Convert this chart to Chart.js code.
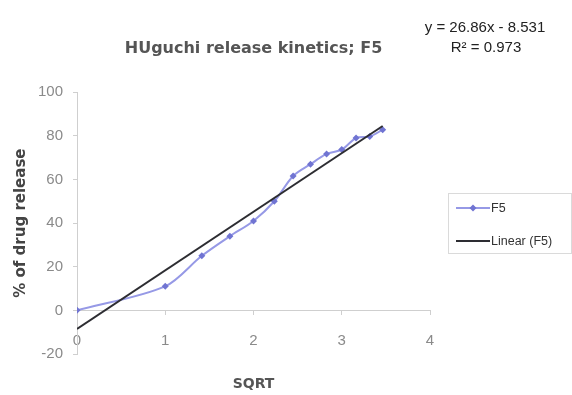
<!DOCTYPE html>
<html>
<head>
<meta charset="utf-8">
<script src="https://cdn.jsdelivr.net/npm/chart.js@4.4.1/dist/chart.umd.min.js"></script>
<style>
  html, body { margin: 0; padding: 0; background: #fff; }
  #wrap { width: 572px; height: 395px; }
</style>
</head>
<body>
<div id="wrap"><canvas id="grafico" width="572" height="395"></canvas></div>
<script>
// Higuchi plot: % released against square root of time
const sqrtTime = [0, 1, 1.414, 1.732, 2, 2.236, 2.449, 2.646, 2.828, 3, 3.162, 3.317, 3.464];
const releaseF5 = [0, 11, 25, 34, 41, 50, 61.6, 67, 71.7, 73.7, 79, 79.7, 82.8];

// linear trend line reported on the chart
const fitSlope = 26.86;
const fitIntercept = -8.531;
const fitR2 = 0.973;

const xTicks = [0, 1, 2, 3, 4];
const yTicks = [-20, 0, 20, 40, 60, 80, 100];

const pontos = sqrtTime.map((x, i) => ({ x: x, y: releaseF5[i] }));
const xIni = sqrtTime[0];
const xFim = sqrtTime[sqrtTime.length - 1];
const tendencia = [
  { x: xIni, y: fitSlope * xIni + fitIntercept },
  { x: xFim, y: fitSlope * xFim + fitIntercept }
];

const corSerie = 'rgb(150, 153, 230)';
const corMarcador = 'rgb(112, 116, 210)';
const corTendencia = 'rgb(45, 45, 50)';

// equation text and the boxed legend on the right
const extras = {
  id: 'extras',
  afterDraw(chart) {
    const ctx = chart.ctx;
    ctx.save();
    ctx.fillStyle = '#222';
    ctx.font = '15px "Liberation Sans", Arial, sans-serif';
    ctx.textAlign = 'center';
    ctx.textBaseline = 'middle';
    ctx.fillText('y = ' + fitSlope + 'x - ' + Math.abs(fitIntercept), 485, 28);
    ctx.fillText('R² = ' + fitR2, 486, 48);

    ctx.strokeStyle = '#dadada';
    ctx.lineWidth = 1;
    ctx.strokeRect(448.5, 193.5, 123, 60);

    const ds = chart.data.datasets;
    const linhas = [208, 241];
    ctx.textAlign = 'left';
    ctx.font = '12.5px "Liberation Sans", Arial, sans-serif';
    ds.forEach((d, i) => {
      const y = linhas[i];
      ctx.strokeStyle = d.borderColor;
      ctx.lineWidth = d.borderWidth;
      ctx.beginPath();
      ctx.moveTo(456, y);
      ctx.lineTo(490, y);
      ctx.stroke();
      if (d.pointRadius > 0) {
        ctx.fillStyle = d.pointBackgroundColor;
        ctx.beginPath();
        ctx.moveTo(473, y - 3.5);
        ctx.lineTo(476.5, y);
        ctx.lineTo(473, y + 3.5);
        ctx.lineTo(469.5, y);
        ctx.closePath();
        ctx.fill();
      }
      ctx.fillStyle = '#333';
      ctx.fillText(d.label, 491, y + 1);
    });
    ctx.restore();
  }
};

const ctx = document.getElementById('grafico').getContext('2d');
const grafico = new Chart(ctx, {
  type: 'scatter',
  data: {
    datasets: [{
      label: 'F5',
      data: pontos,
      showLine: true,
      borderColor: corSerie,
      borderWidth: 2,
      tension: 0.3,
      pointStyle: 'rectRot',
      pointRadius: 3.5,
      pointBackgroundColor: corMarcador,
      pointBorderColor: corMarcador,
      pointBorderWidth: 0,
      order: 1
    }, {
      label: 'Linear (F5)',
      data: tendencia,
      showLine: true,
      borderColor: corTendencia,
      borderWidth: 2,
      pointRadius: 0,
      order: 0
    }]
  },
  options: {
    responsive: false,
    animation: false,
    layout: { padding: { left: 0, top: 0, right: 142, bottom: 41 } },
    plugins: {
      legend: { display: false },
      tooltip: { enabled: false },
      title: {
        display: true,
        fullSize: false,
        text: 'HUguchi release kinetics; F5',
        color: '#555',
        font: { family: '"DejaVu Sans", Verdana, sans-serif', size: 16, weight: 'bold' },
        padding: { top: 39, bottom: 34 }
      }
    },
    scales: {
      x: {
        type: 'linear',
        position: { y: 0 },
        min: xTicks[0],
        max: xTicks[xTicks.length - 1],
        afterBuildTicks: (s) => { s.ticks = xTicks.map(v => ({ value: v })); },
        ticks: {
          color: '#8a8a8a',
          padding: 17,
          maxRotation: 0,
          font: { family: '"Liberation Sans", Arial, sans-serif', size: 15 }
        },
        grid: { drawOnChartArea: false, drawTicks: true, tickLength: 4, color: '#cfcfcf' },
        border: { display: true, color: '#cfcfcf' },
        title: {
          display: true,
          text: 'SQRT',
          color: '#555',
          font: { family: '"DejaVu Sans", Verdana, sans-serif', size: 14, weight: 'bold' },
          padding: { top: 10, bottom: 0 }
        }
      },
      y: {
        type: 'linear',
        min: yTicks[0],
        max: yTicks[yTicks.length - 1],
        afterBuildTicks: (s) => { s.ticks = yTicks.map(v => ({ value: v })); },
        afterFit: (s) => { s.width = 77; },
        ticks: {
          color: '#8a8a8a',
          padding: 10,
          font: { family: '"Liberation Sans", Arial, sans-serif', size: 15 }
        },
        grid: { drawOnChartArea: false, drawTicks: true, tickLength: 4, color: '#cfcfcf' },
        border: { display: true, color: '#cfcfcf' },
        title: {
          display: true,
          text: '% of drug release',
          color: '#444',
          font: { family: '"DejaVu Sans", Verdana, sans-serif', size: 15, weight: 'bold' },
          padding: { top: 12, bottom: 0 }
        }
      }
    }
  },
  plugins: [extras]
});
</script>
</body>
</html>
